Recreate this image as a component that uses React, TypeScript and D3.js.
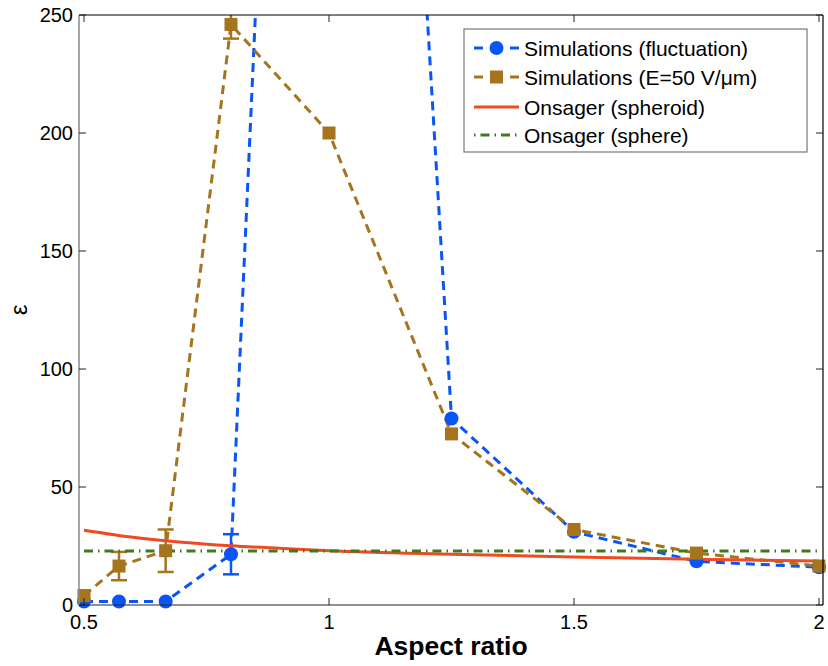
import React from "react";
import * as d3 from "d3";

const aspect = [0.5, 4 / 7, 2 / 3, 0.8, 1.0, 1.25, 1.5, 1.75, 2.0];
const fluctuation = [1.5, 1.5, 1.5, 21.5, 940, 79, 31, 18.5, 16];
const fluctErr = [0, 0, 0, 8.5, 0, 0, 0, 0, 0];
const field50 = [4, 16.5, 23, 246, 200, 72.5, 32, 22, 16.5];
const fieldErr = [0, 6, 9, 6, 0, 0, 0, 0, 0];
const spheroidX = [0.5, 0.6, 0.7, 0.8, 0.9, 1.0, 1.25, 1.5, 1.75, 2.0];
const spheroidY = [31.7, 28.7, 26.6, 25.1, 24.0, 23.0, 21.5, 20.3, 19.4, 18.6];
const sphereValue = 22.9;
const xTicks = [0.5, 1, 1.5, 2];
const yTicks = [0, 50, 100, 150, 200, 250];
const legendLabels = [
  "Simulations (fluctuation)",
  "Simulations (E=50 V/\u03bcm)",
  "Onsager (spheroid)",
  "Onsager (sphere)",
];

const BLUE = "#0a55f5";
const BROWN = "#a5741c";
const RED = "#ef4a22";
const GREEN = "#3e7a1e";

export default function App() {
  const W = 828, H = 666;
  const left = 79, right = 823, top = 15, bottom = 605;
  const x = d3.scaleLinear().domain([0.5, 2]).range([84, 819]);
  const y = d3.scaleLinear().domain([0, 250]).range([bottom, top]);
  const line = d3.line<[number, number]>().x(d => x(d[0])).y(d => y(d[1]));
  const curve = d3.line<[number, number]>().x(d => x(d[0])).y(d => y(d[1])).curve(d3.curveMonotoneX);
  const fluctPts = aspect.map((a, i) => [a, fluctuation[i]] as [number, number]);
  const fieldPts = aspect.map((a, i) => [a, field50[i]] as [number, number]);
  const sphPts = spheroidX.map((a, i) => [a, spheroidY[i]] as [number, number]);
  const spherePts: [number, number][] = [[0.5, sphereValue], [2, sphereValue]];
  const font = "'Liberation Sans', Arial, Helvetica, sans-serif";

  const errBars = (vals: number[], errs: number[], color: string) =>
    aspect.map((a, i) =>
      errs[i] > 0 ? (
        <g key={i} stroke={color} strokeWidth={2.5}>
          <line x1={x(a)} x2={x(a)} y1={y(vals[i] - errs[i])} y2={y(vals[i] + errs[i])} />
          <line x1={x(a) - 8} x2={x(a) + 8} y1={y(vals[i] - errs[i])} y2={y(vals[i] - errs[i])} />
          <line x1={x(a) - 8} x2={x(a) + 8} y1={y(vals[i] + errs[i])} y2={y(vals[i] + errs[i])} />
        </g>
      ) : null
    );

  const inRange = (v: number) => v <= 252;

  const lx = 464, ly = 29, lw = 343, lh = 123;
  const rowY = [48, 77, 107, 135];

  return (
    <svg width={W} height={H} style={{ position: "absolute", left: 0, top: 0, background: "#fff" }} fontFamily={font}>
      <defs>
        <clipPath id="plot">
          <rect x={left} y={top} width={right - left} height={bottom - top} />
        </clipPath>
      </defs>
      <rect x={0} y={0} width={W} height={H} fill="#fff" />
      <g clipPath="url(#plot)">
        <path d={line(fluctPts) || ""} fill="none" stroke={BLUE} strokeWidth={3} strokeDasharray="9,6" />
        {errBars(fluctuation, fluctErr, BLUE)}
        <path d={line(fieldPts) || ""} fill="none" stroke={BROWN} strokeWidth={3} strokeDasharray="9,6" />
        {errBars(field50, fieldErr, BROWN)}
        <path d={curve(sphPts) || ""} fill="none" stroke={RED} strokeWidth={3} />
        <path d={line(spherePts) || ""} fill="none" stroke={GREEN} strokeWidth={3} strokeDasharray="9,5,1.5,5" />
      </g>
      {fluctPts.filter(p => inRange(p[1])).map((p, i) => (
        <circle key={"b" + i} cx={x(p[0])} cy={y(p[1])} r={7} fill={BLUE} />
      ))}
      {fieldPts.filter(p => inRange(p[1])).map((p, i) => (
        <rect key={"s" + i} x={x(p[0]) - 6.5} y={y(p[1]) - 6.5} width={13} height={13} fill={BROWN} />
      ))}
      {/* axes box */}
      <line x1={left} x2={right} y1={top} y2={top} stroke="#000" strokeWidth={1.2} />
      <line x1={left} x2={right} y1={bottom} y2={bottom} stroke="#222" strokeWidth={1.2} />
      <line x1={right} x2={right} y1={top} y2={bottom} stroke="#000" strokeWidth={1.2} />
      <line x1={left} x2={left} y1={top} y2={bottom} stroke="#888" strokeWidth={1.5} />
      {xTicks.map(t => (
        <g key={"xt" + t}>
          <line x1={x(t)} x2={x(t)} y1={bottom} y2={bottom - 7} stroke="#222" />
          <line x1={x(t)} x2={x(t)} y1={top} y2={top + 7} stroke="#222" />
          <text x={x(t)} y={629} fontSize={20} textAnchor="middle" fill="#000">{String(t)}</text>
        </g>
      ))}
      {yTicks.map(t => (
        <g key={"yt" + t}>
          <line x1={left} x2={left + 7} y1={y(t)} y2={y(t)} stroke="#222" />
          <line x1={right} x2={right - 7} y1={y(t)} y2={y(t)} stroke="#222" />
          <text x={73} y={y(t) + 7} fontSize={20} textAnchor="end" fill="#000">{String(t)}</text>
        </g>
      ))}
      <text x={451} y={655} fontSize={26.5} fontWeight="bold" textAnchor="middle" fill="#000">Aspect ratio</text>
      <text transform="translate(21,310) rotate(-90)" fontSize={24} textAnchor="middle" dominantBaseline="middle" fill="#000">ε</text>
      {/* legend */}
      <rect x={lx} y={ly} width={lw} height={lh} fill="#fff" stroke="#777" strokeWidth={1.2} />
      <g>
        <line x1={474} x2={483} y1={rowY[0]} y2={rowY[0]} stroke={BLUE} strokeWidth={3} />
        <line x1={510} x2={519} y1={rowY[0]} y2={rowY[0]} stroke={BLUE} strokeWidth={3} />
        <circle cx={496.5} cy={rowY[0]} r={7} fill={BLUE} />
        <line x1={474} x2={483} y1={rowY[1]} y2={rowY[1]} stroke={BROWN} strokeWidth={3} />
        <line x1={510} x2={519} y1={rowY[1]} y2={rowY[1]} stroke={BROWN} strokeWidth={3} />
        <rect x={490} y={rowY[1] - 6.5} width={13} height={13} fill={BROWN} />
        <line x1={474} x2={519} y1={rowY[2]} y2={rowY[2]} stroke={RED} strokeWidth={3} />
        <line x1={474} x2={519} y1={rowY[3]} y2={rowY[3]} stroke={GREEN} strokeWidth={3} strokeDasharray="1.5,5,9,5" />
        {legendLabels.map((l, i) => (
          <text key={l} x={524} y={rowY[i] + 7.5} fontSize={21} fill="#000">{l}</text>
        ))}
      </g>
    </svg>
  );
}
